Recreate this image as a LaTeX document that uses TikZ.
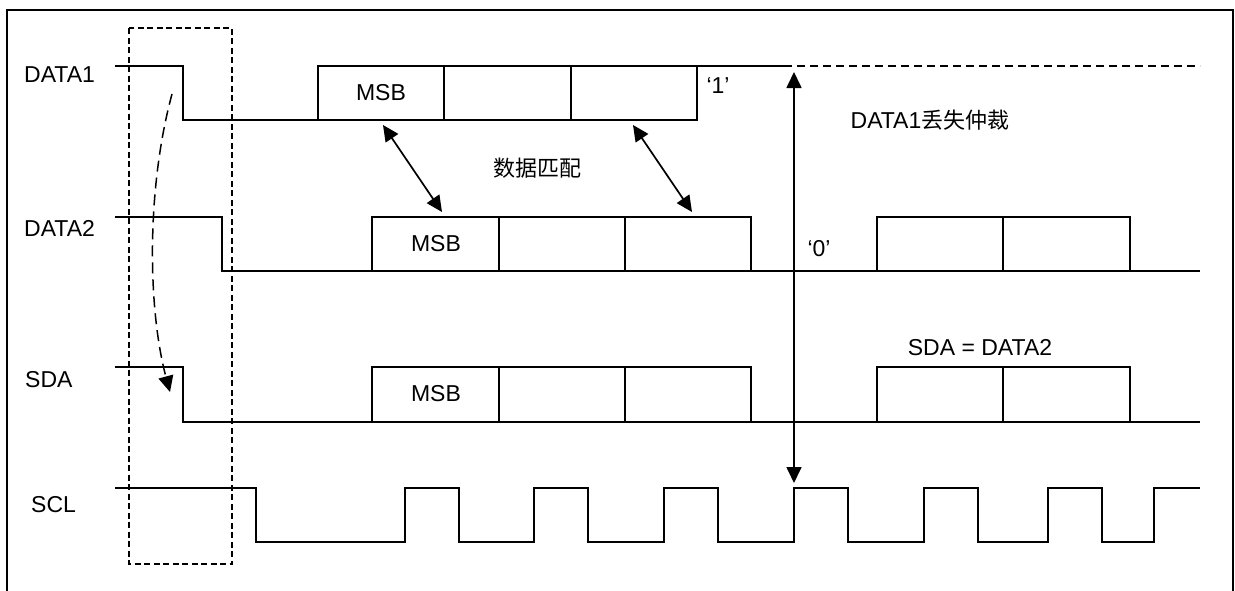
\documentclass[tikz,border=0pt]{standalone}
\usepackage{fontspec}
\setmainfont{Liberation Sans}
\newfontfamily\cjk{Noto Sans CJK SC}
\usetikzlibrary{arrows.meta}
\begin{document}
\begin{tikzpicture}[x=1pt,y=-1pt,
  sig/.style={line width=2pt, line join=miter},
  frameline/.style={line width=2pt},
  cell/.style={line width=2pt},
  lbl/.style={font=\fontsize{23}{26}\selectfont, inner sep=0pt},
  cjklbl/.style={font=\fontsize{22}{26}\selectfont, inner sep=0pt},
  dashbox/.style={line width=1.5pt, dash pattern=on 6pt off 3.5pt},
  ext/.style={line width=1.5pt, dash pattern=on 8pt off 5pt},
  matcharrow/.style={line width=1.7pt, {Triangle[length=16pt,width=15pt]}-{Triangle[length=16pt,width=15pt]}},
  curvearrow/.style={line width=1.5pt, dash pattern=on 11pt off 6pt, -{Triangle[length=16pt,width=15pt]}},
]
\useasboundingbox (0,0) rectangle (1235,590);
% frame (bottom edge lies outside the picture)
\draw[frameline] (7,600) -- (7,10) -- (1233,10) -- (1233,600);

% dashed highlight box
\draw[dashbox] (129,28) rectangle (232,564);

% signal labels
\node[lbl, anchor=west] (lD1) at (24,75) {DATA1};
\node[lbl, anchor=west] (lD2) at (24,228) {DATA2};
\node[lbl, anchor=west] (lSDA) at (25,380) {SDA};
\node[lbl, anchor=west] (lSCL) at (31,505) {SCL};

% DATA1
\draw[sig] (115,66) -- (183,66) -- (183,120) -- (697,120) -- (697,66) -- (318,66) -- (318,120);
\draw[cell] (444,66) -- (444,120) (571,66) -- (571,120);
\draw[sig] (697,66) -- (784,66);
\draw[ext] (784,66) -- (1200,66);
\node[lbl] (msb1) at (381,93) {MSB};
\node[lbl] (one) at (718,86) {‘1’};

% DATA2
\draw[sig] (115,217) -- (222,217) -- (222,271) -- (1200,271);
\draw[cell] (372,271) -- (372,217) -- (751,217) -- (751,271);
\draw[cell] (499,217) -- (499,271) (625,217) -- (625,271);
\draw[cell] (877,271) -- (877,217) -- (1130,217) -- (1130,271);
\draw[cell] (1003,217) -- (1003,271);
\node[lbl] (msb2) at (436,244) {MSB};
\node[lbl] (zero) at (819,249) {‘0’};

% SDA
\draw[sig] (115,367) -- (183,367) -- (183,422) -- (1200,422);
\draw[cell] (372,422) -- (372,367) -- (751,367) -- (751,422);
\draw[cell] (499,367) -- (499,422) (625,367) -- (625,422);
\draw[cell] (877,422) -- (877,367) -- (1130,367) -- (1130,422);
\draw[cell] (1003,367) -- (1003,422);
\node[lbl] (msb3) at (436,394) {MSB};
\node[lbl] (sdaeq) at (980,348) {SDA = DATA2};

% SCL
\draw[sig] (115,488) -- (256,488) -- (256,542) -- (405,542) -- (405,488) -- (459,488) -- (459,542)
  -- (534,542) -- (534,488) -- (588,488) -- (588,542) -- (664,542) -- (664,488) -- (718,488)
  -- (718,542) -- (794,542) -- (794,488) -- (848,488) -- (848,542) -- (924,542) -- (924,488)
  -- (978,488) -- (978,542) -- (1048,542) -- (1048,488) -- (1102,488) -- (1102,542) -- (1154,542)
  -- (1154,488) -- (1200,488);

% data match arrows
\coordinate (m1a) at (383,125);
\coordinate (m1b) at (442,212);
\coordinate (m2a) at (633,125);
\coordinate (m2b) at (692,212);
\draw[matcharrow] (m1a) -- (m1b);
\draw[matcharrow] (m2a) -- (m2b);
\node[cjklbl] (match) at (537,168) {\cjk 数据匹配};

% arbitration arrow
\coordinate (arbTop) at (794,72);
\coordinate (arbBot) at (794,483);
\draw[matcharrow] (arbTop) -- (arbBot);
\node[lbl] (lost) at (930,120) {DATA1{\cjk\fontsize{22}{26}\selectfont 丢失仲裁}};

% dashed curved arrow
\coordinate (cStart) at (172,94);
\coordinate (cEnd) at (170,392);
\draw[curvearrow] (cStart) .. controls (146,190) and (148,310) .. (cEnd);
\end{tikzpicture}
\end{document}
